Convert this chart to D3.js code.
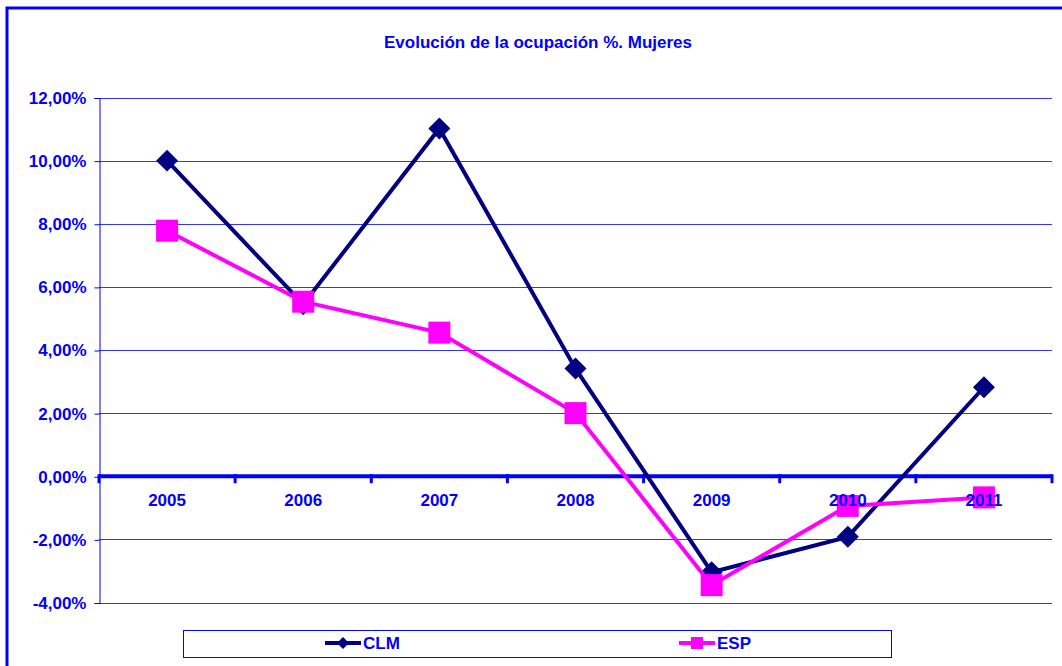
<!DOCTYPE html>
<html>
<head>
<meta charset="utf-8">
<script src="https://cdn.jsdelivr.net/npm/d3@7"></script>
<style>
  html, body { margin: 0; padding: 0; background: #fff; }
  svg { display: block; }
  text { font-family: "Liberation Sans", Arial, sans-serif; font-weight: bold; fill: #0000ff; }
</style>
</head>
<body>
<div id="chart"></div>
<script>
// ── Data ─────────────────────────────────────────────
const YEARS = ["2005", "2006", "2007", "2008", "2009", "2010", "2011"];
const CLM   = [0.1000, 0.0545, 0.1102, 0.0341, -0.0304, -0.0192, 0.0282];
const ESP   = [0.0778, 0.0553, 0.0455, 0.0200, -0.0345, -0.0094, -0.0067];
const Y_TICKS = [-0.04, -0.02, 0, 0.02, 0.04, 0.06, 0.08, 0.10, 0.12];
const TITLE = "Evolución de la ocupación %. Mujeres";

const SERIES = [
  { name: "CLM", values: CLM, color: "#000080", marker: "diamond" },
  { name: "ESP", values: ESP, color: "#ff00ff", marker: "square" }
];

// ── Layout ───────────────────────────────────────────
const W = 1062, H = 666;
const PLOT = { left: 99, right: 1052, top: 97.5, bottom: 602.5 };
const BLUE = "#0000ff";

const es = d3.formatLocale({ decimal: ",", thousands: ".", grouping: [3], currency: ["", "€"], minus: "-" });
const pct = es.format(".2%");

const svg = d3.select("#chart").append("svg")
  .attr("width", W).attr("height", H);

// outer chart border (extends past the picture edge)
svg.append("rect")
  .attr("x", 7).attr("y", 8).attr("width", 1120).attr("height", 720)
  .attr("fill", "#fff").attr("stroke", BLUE).attr("stroke-width", 3);

// title
svg.append("text")
  .attr("x", 538).attr("y", 48)
  .attr("text-anchor", "middle")
  .attr("font-size", 17)
  .text(TITLE);

// scales
const x = d3.scaleBand().domain(YEARS).range([PLOT.left, PLOT.right]).padding(0);
const y = d3.scaleLinear().domain([-0.04, 0.12]).range([PLOT.bottom, PLOT.top]);

// gridlines
svg.append("g").selectAll("line")
  .data(Y_TICKS.filter(d => d !== 0))
  .join("line")
  .attr("x1", PLOT.left).attr("x2", PLOT.right)
  .attr("y1", d => Math.round(y(d)) + 0.5).attr("y2", d => Math.round(y(d)) + 0.5)
  .attr("stroke", "#3333ff").attr("stroke-width", 1);

// y axis
const yAxisG = svg.append("g")
  .attr("transform", `translate(${PLOT.left + 0.5},0.5)`)
  .call(d3.axisLeft(y).tickValues(Y_TICKS).tickFormat(pct).tickSize(5).tickPadding(8));
yAxisG.select(".domain").attr("stroke", BLUE).attr("stroke-width", 1);
yAxisG.selectAll(".tick line").attr("stroke", BLUE).attr("stroke-width", 1);
yAxisG.selectAll(".tick text")
  .attr("font-size", 17).attr("fill", BLUE)
  .attr("font-family", "Liberation Sans, Arial, sans-serif")
  .attr("font-weight", "bold");

// x axis line at zero (thick) with boundary ticks
const y0 = y(0);
svg.append("line")
  .attr("x1", PLOT.left).attr("x2", PLOT.right)
  .attr("y1", y0).attr("y2", y0)
  .attr("stroke", BLUE).attr("stroke-width", 4);
const bounds = YEARS.map(d => x(d)).concat([x(YEARS[YEARS.length - 1]) + x.bandwidth()]);
svg.append("g").selectAll("line")
  .data(bounds)
  .join("line")
  .attr("x1", d => d).attr("x2", d => d)
  .attr("y1", y0 - 2).attr("y2", y0 + 7)
  .attr("stroke", BLUE).attr("stroke-width", 3);

// series
const line = d3.line()
  .x((d, i) => x(YEARS[i]) + x.bandwidth() / 2)
  .y(d => y(d));

const diamond = d3.symbol().type(d3.symbolSquare).size(242);
const square  = d3.symbol().type(d3.symbolSquare).size(484);

SERIES.forEach(s => {
  const g = svg.append("g");
  g.append("path")
    .attr("d", line(s.values))
    .attr("fill", "none")
    .attr("stroke", s.color)
    .attr("stroke-width", 4)
    .attr("stroke-linejoin", "miter");
  g.selectAll("path.mk")
    .data(s.values)
    .join("path")
    .attr("class", "mk")
    .attr("d", s.marker === "diamond" ? diamond() : square())
    .attr("transform", (d, i) =>
      `translate(${x(YEARS[i]) + x.bandwidth() / 2},${y(d)})` + (s.marker === "diamond" ? " rotate(45)" : ""))
    .attr("fill", s.color);
});

// category labels (drawn over markers)
const xAxisG = svg.append("g")
  .attr("transform", `translate(0,${y0})`)
  .call(d3.axisBottom(x).tickSize(0).tickPadding(18));
xAxisG.select(".domain").remove();
xAxisG.selectAll(".tick text")
  .attr("font-size", 17).attr("fill", BLUE)
  .attr("font-family", "Liberation Sans, Arial, sans-serif")
  .attr("font-weight", "bold");

// legend
const LEG = { x: 183.5, y: 630.5, w: 708, h: 27 };
svg.append("rect")
  .attr("x", LEG.x).attr("y", LEG.y).attr("width", LEG.w).attr("height", LEG.h)
  .attr("fill", "#fff").attr("stroke", BLUE).attr("stroke-width", 1);

const legX = [325, 679];
const legY = 643;
const legDiamond = d3.symbol().type(d3.symbolSquare).size(72);
const legSquare  = d3.symbol().type(d3.symbolSquare).size(144);
SERIES.forEach((s, i) => {
  const g = svg.append("g").attr("transform", `translate(${legX[i]},${legY})`);
  g.append("line").attr("x1", 0).attr("x2", 36).attr("y1", 0).attr("y2", 0)
    .attr("stroke", s.color).attr("stroke-width", 4);
  g.append("path")
    .attr("d", s.marker === "diamond" ? legDiamond() : legSquare())
    .attr("transform", "translate(18,0)" + (s.marker === "diamond" ? " rotate(45)" : ""))
    .attr("fill", s.color);
  g.append("text")
    .attr("x", 38).attr("y", 0).attr("dy", "0.36em")
    .attr("font-size", 17)
    .text(s.name);
});
</script>
</body>
</html>
